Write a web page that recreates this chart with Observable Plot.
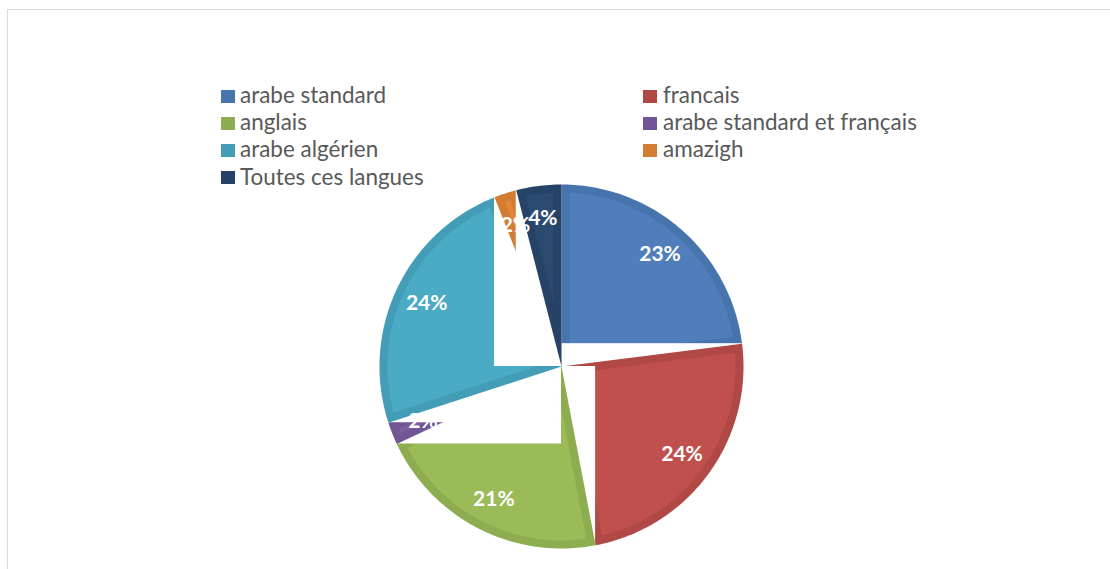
<!DOCTYPE html>
<html>
<head>
<meta charset="utf-8">
<script src="https://cdn.jsdelivr.net/npm/d3@7"></script>
<script src="https://cdn.jsdelivr.net/npm/@observablehq/plot@0.6"></script>
<style>
  html, body { margin: 0; padding: 0; background: #fff; overflow: hidden; }
  #wrap { position: relative; width: 1110px; height: 569px; overflow: hidden; }
  #frame { position: absolute; left: 7px; top: 9px; width: 1300px; height: 800px; border: 1px solid #d9d9d9; box-sizing: border-box; }
  #chart { position: absolute; left: 0; top: 0; }
  .lg { position: absolute; font-family: Lato, "Open Sans", sans-serif; color: #595959; white-space: nowrap; line-height: 1; }
  .sw { position: absolute; width: 14px; height: 13px; }
</style>
</head>
<body>
<div id="wrap">
  <div id="frame"></div>
  <div id="chart"></div>
  <div id="legend"></div>
</div>
<script>
// ---- data ----
const categories = ["arabe standard", "francais", "anglais", "arabe standard et français", "arabe algérien", "amazigh", "Toutes ces langues"];
const values = [23, 24, 21, 2, 24, 2, 4];
const labels = ["23%", "24%", "21%", "2%", "24%", "2%", "4%"];
const colors = ["#4F7EBA", "#C0504D", "#9BBB59", "#7D5FA0", "#4BAAC4", "#E3883B", "#2B4A6F"];
const rimColors = ["#4874AE", "#B04845", "#8EAD50", "#725594", "#449DB6", "#D37C33", "#264266"];

// ---- layout ----
const W = 1110, H = 569;
const cx = 561, cy = 366, R = 182; // pixels
const rimPx = 8;

const total = d3.sum(values);
let acc = 0;
const slices = values.map((v, i) => {
  const a0 = acc / total * 2 * Math.PI;
  acc += v;
  const a1 = acc / total * 2 * Math.PI;
  return {i, a0, a1, v};
});

const pt = (a, r) => ({x: r * Math.sin(a), y: r * Math.cos(a)});
function wedge(a0, a1, r, apex) {
  const pts = [apex];
  const n = Math.max(2, Math.ceil((a1 - a0) / (Math.PI / 180)));
  for (let k = 0; k <= n; k++) pts.push(pt(a0 + (a1 - a0) * k / n, r));
  pts.push(apex);
  return pts;
}

const d = rimPx / R;
const marks = [];
for (const s of slices) {
  // outer (rim) wedge
  marks.push(Plot.line(wedge(s.a0, s.a1, 1, {x: 0, y: 0}), {x: "x", y: "y", fill: rimColors[s.i], stroke: "none", curve: "linear"}));
  // inner wedge
  const half = (s.a1 - s.a0) / 2;
  const apexDist = d / Math.sin(half);
  if (apexDist < 1 - 3 * d) {
    const am = (s.a0 + s.a1) / 2;
    const delta = Math.asin(d / (1 - d));
    marks.push(Plot.line(wedge(s.a0 + delta, s.a1 - delta, 1 - d, pt(am, apexDist)), {x: "x", y: "y", fill: colors[s.i], stroke: "none", curve: "linear"}));
  }
  // white rectangle spanning center to end point of the slice
  const e = pt(s.a1, 1);
  marks.push(Plot.rect([{x1: 0, x2: e.x, y1: 0, y2: e.y}], {x1: "x1", x2: "x2", y1: "y1", y2: "y2", fill: "white", inset: 0}));
}
// data labels
const labelR = 149 / R;
const labelData = slices.map(s => ({...pt((s.a0 + s.a1) / 2, labelR), t: labels[s.i]}));
marks.push(Plot.text(labelData, {x: "x", y: "y", text: "t", fill: "white", fontSize: 21, fontWeight: "bold", fontFamily: "Lato, sans-serif"}));

const chart = Plot.plot({
  width: W, height: H,
  margin: 0,
  x: {domain: [-cx / R, (W - cx) / R], axis: null},
  y: {domain: [-(H - cy) / R, cy / R], axis: null},
  style: {background: "transparent"},
  marks
});
document.getElementById("chart").appendChild(chart);

// ---- legend ----
const canvas = document.createElement("canvas");
const ctx = canvas.getContext("2d");
ctx.font = "20px Lato";
const measured = ctx.measureText("arabe standard et français").width;
const fs = 20 * 254 / measured;
const lg = document.getElementById("legend");
const colSw = [221, 643], colTx = [240, 663];
categories.forEach((c, i) => {
  const col = i % 2, row = Math.floor(i / 2);
  const yc = 96 + row * 27.3;
  const sw = document.createElement("div");
  sw.className = "sw";
  sw.style.left = colSw[col] + "px";
  sw.style.top = (yc - 6.5) + "px";
  sw.style.background = rimColors[i];
  lg.appendChild(sw);
  const t = document.createElement("div");
  t.className = "lg";
  t.textContent = c;
  t.style.fontSize = fs + "px";
  t.style.left = colTx[col] + "px";
  t.style.top = (yc - fs * 0.55) + "px";
  lg.appendChild(t);
});
</script>
</body>
</html>
